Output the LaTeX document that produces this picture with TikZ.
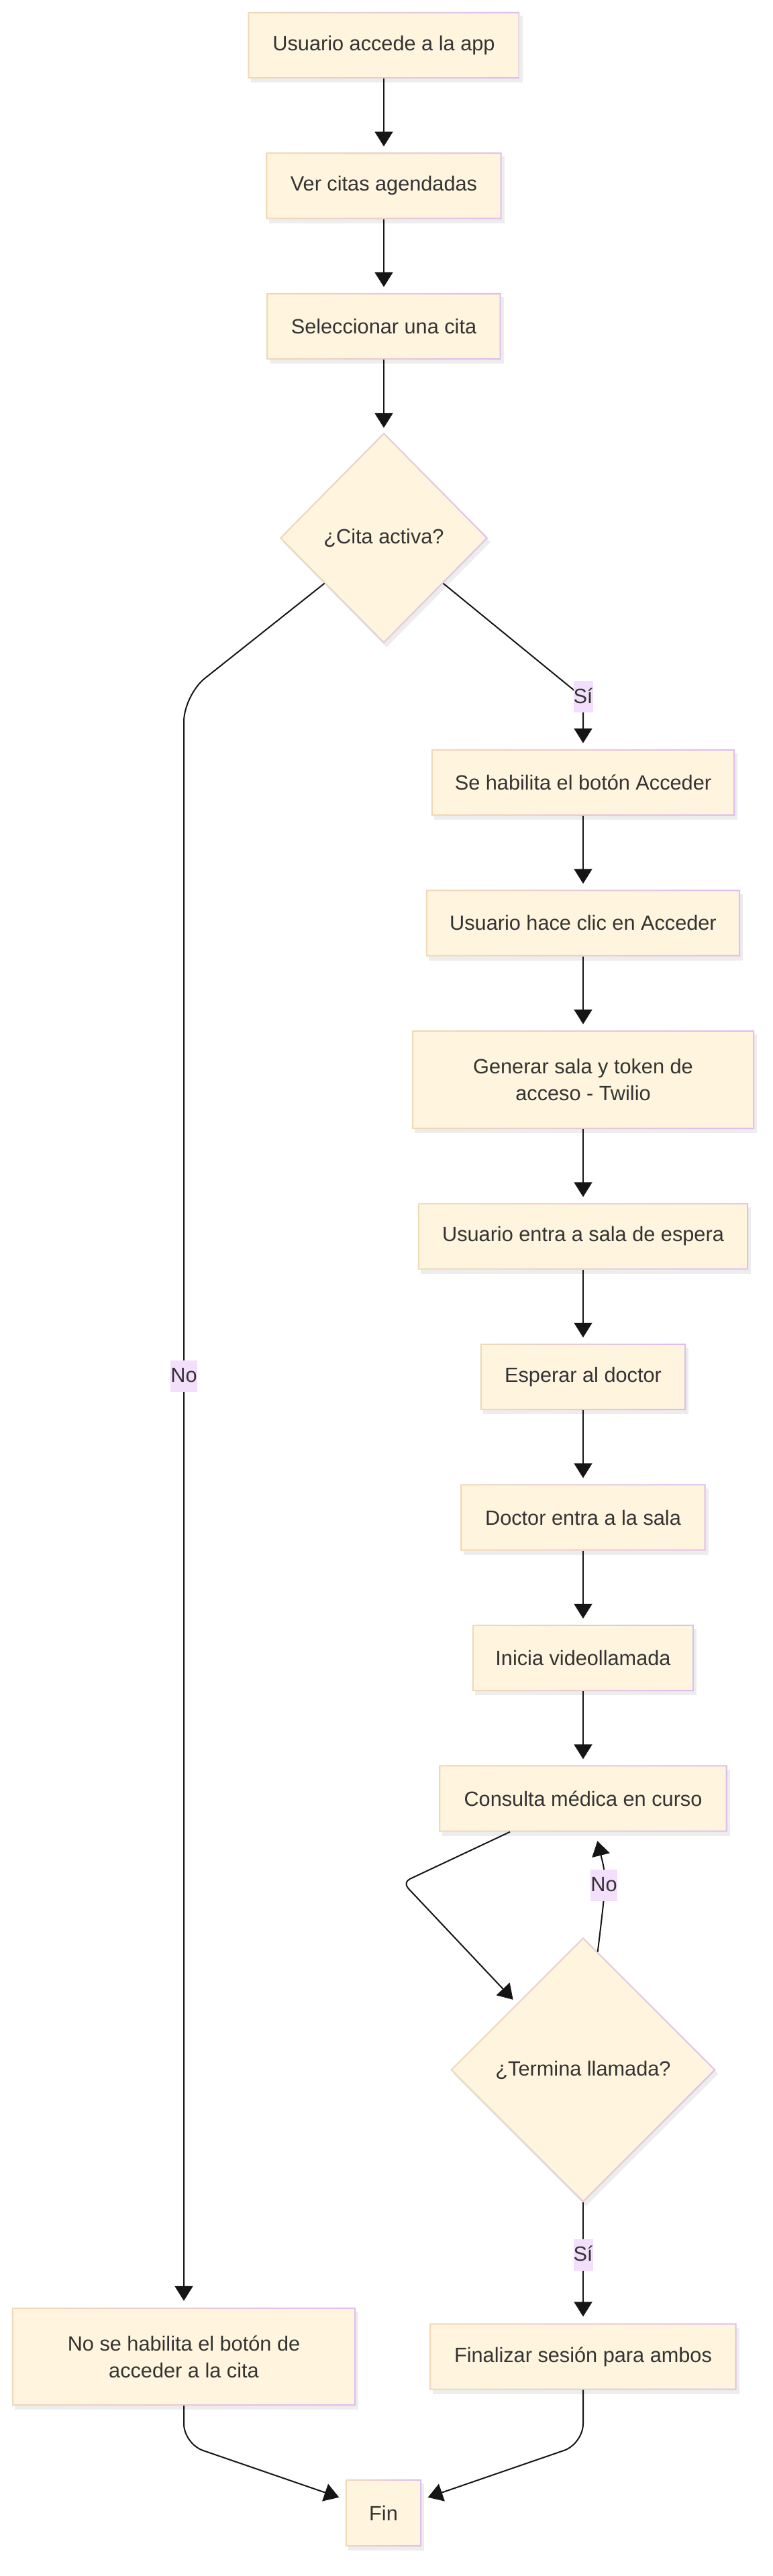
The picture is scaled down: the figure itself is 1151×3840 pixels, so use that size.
\documentclass[tikz,border=0pt]{standalone}
\usepackage{fontspec}
\setmainfont{Liberation Sans}
\usetikzlibrary{arrows.meta,shapes.geometric,shadows,calc}
\definecolor{cream}{HTML}{FFF4DD}
\definecolor{btan}{HTML}{EFD9B6}
\definecolor{blav}{HTML}{DEBDF0}
\definecolor{lblbg}{HTML}{F3DEFC}
\definecolor{txt}{HTML}{333333}
\definecolor{lnc}{HTML}{151515}
\begin{document}
\begin{tikzpicture}[x=1pt,y=-1pt,
  every node/.style={font=\fontsize{30.7}{40}\selectfont, text=txt},
  box/.style={rectangle, fill=cream, minimum height=99pt, inner sep=8pt, align=center,
    drop shadow={shadow xshift=4pt, shadow yshift=-6pt, fill=black, opacity=0.07}},
  dia/.style={diamond, fill=cream, inner sep=0pt, align=center,
    drop shadow={shadow xshift=4pt, shadow yshift=-6pt, fill=black, opacity=0.07}},
  lbl/.style={fill=lblbg, inner xsep=0pt, inner ysep=0pt, text height=33pt, text depth=14pt},
  flow/.style={draw=lnc, line width=2pt, -{Triangle[width=27pt,length=22pt]}, shorten >=9pt},
]
\fill[white] (0,0) rectangle (1151,3840);
\useasboundingbox (0,0) rectangle (1151,3840);

% nodes
\node[box, minimum width=405pt] (n1) at (572,67.5) {Usuario accede a la app};
\node[box, minimum width=351pt] (n2) at (572,277) {Ver citas agendadas};
\node[box, minimum width=349pt] (n3) at (572,486.5) {Seleccionar una cita};
\node[dia, minimum width=310pt, minimum height=314pt] (d1) at (572,802) {¿Cita activa?};
\node[box, minimum width=452pt] (r1) at (869,1166.5) {Se habilita el botón Acceder};
\node[box, minimum width=468pt] (r2) at (869,1376) {Usuario hace clic en Acceder};
\node[box, minimum width=510pt, minimum height=147pt] (r3) at (869,1609.5) {Generar sala y token de\\acceso - Twilio};
\node[box, minimum width=492pt] (r4) at (869,1843) {Usuario entra a sala de espera};
\node[box, minimum width=306pt] (r5) at (869,2052.5) {Esperar al doctor};
\node[box, minimum width=365pt] (r6) at (869,2262) {Doctor entra a la sala};
\node[box, minimum width=330pt] (r7) at (869,2471.5) {Inicia videollamada};
\node[box, minimum width=429pt] (r8) at (869,2681) {Consulta médica en curso};
\node[dia, minimum width=395pt, minimum height=395pt] (d2) at (869,3085.5) {¿Termina llamada?};
\node[box, minimum width=457pt] (r9) at (869,3513) {Finalizar sesión para ambos};
\node[box, minimum width=512pt, minimum height=146pt] (l1) at (274,3513) {No se habilita el botón de\\acceder a la cita};
\node[box, minimum width=113pt, minimum height=100pt] (fin) at (571.5,3746) {Fin};

% gradient borders
\foreach \n in {n1,n2,n3,r1,r2,r3,r4,r5,r6,r7,r8,r9,l1,fin}
  \shade[left color=btan, right color=blav, even odd rule]
    (\n.south west) rectangle (\n.north east)
    ([shift={(2pt,2pt)}]\n.south west) rectangle ([shift={(-2pt,-2pt)}]\n.north east);
\foreach \d in {d1,d2}
  \shade[left color=btan, right color=blav, even odd rule]
    (\d.north) -- (\d.east) -- (\d.south) -- (\d.west) -- cycle
    ([yshift=-2.8pt]\d.north) -- ([xshift=-2.8pt]\d.east) -- ([yshift=2.8pt]\d.south) -- ([xshift=2.8pt]\d.west) -- cycle;

% coordinates
\coordinate (d1r) at ($(d1.east)!0.43!(d1.south)$);
\coordinate (d1l) at ($(d1.west)!0.43!(d1.south)$);
\coordinate (c1) at (869,1040);
\coordinate (c2) at (274,1036);
\coordinate (s8) at ([xshift=-109pt]r8.south);
\coordinate (c3) at (600,2806);
\coordinate (e8) at ($(d2.north)!0.5!(d2.west)$);
\coordinate (d2n) at ($(d2.north)!0.11!(d2.east)$);
\coordinate (k1) at (904,2800);
\coordinate (e9) at ([xshift=18pt]r8.south);
\coordinate (c4) at (274,3643);
\coordinate (c5) at (869,3643);
\coordinate (f1) at ([yshift=20pt]fin.west);
\coordinate (f2) at ([yshift=20pt]fin.east);

% connectors
\draw[flow] (n1.south) -- (n2.north);
\draw[flow] (n2.south) -- (n3.north);
\draw[flow, shorten >=7pt] (n3.south) -- (d1.north);
\draw[flow, rounded corners=18pt] (d1r) -- (c1) -- (r1.north);
\draw[flow, rounded corners=40pt, shorten >=10pt] (d1l) -- (c2) -- (l1.north);
\draw[flow] (r1.south) -- (r2.north);
\draw[flow] (r2.south) -- (r3.north);
\draw[flow] (r3.south) -- (r4.north);
\draw[flow] (r4.south) -- (r5.north);
\draw[flow] (r5.south) -- (r6.north);
\draw[flow] (r6.south) -- (r7.north);
\draw[flow] (r7.south) -- (r8.north);
\draw[flow, rounded corners=12pt, shorten >=8pt] (s8) -- (c3) -- (e8);
\draw[flow, shorten >=14pt] (d2n) .. controls (k1) .. (e9);
\draw[flow, shorten >=10pt] (d2.south) -- (r9.north);
\draw[flow, rounded corners=30pt, shorten >=10pt] (l1.south) -- (c4) -- (f1);
\draw[flow, rounded corners=30pt, shorten >=10pt] (r9.south) -- (c5) -- (f2);

% edge labels
\node[lbl] (lsi1) at (869,1038.5) {Sí};
\node[lbl] (lno1) at (274,2051) {No};
\node[lbl] (lno2) at (900,2810) {No};
\node[lbl] (lsi2) at (869,3361) {Sí};
\end{tikzpicture}
\end{document}
